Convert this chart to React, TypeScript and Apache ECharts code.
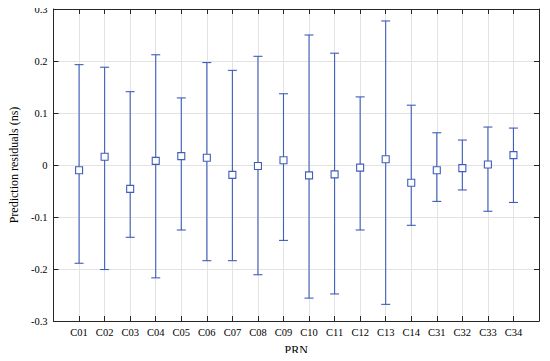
import React, { useEffect, useRef } from "react";
import * as echarts from "echarts";

const categories = ["C01","C02","C03","C04","C05","C06","C07","C08","C09","C10","C11","C12","C13","C14","C31","C32","C33","C34"];
const meanValues = [-0.010, 0.016, -0.046, 0.008, 0.017, 0.014, -0.019, -0.002, 0.009, -0.020, -0.018, -0.005, 0.011, -0.034, -0.010, -0.006, 0.001, 0.019];
const upperValues = [0.193, 0.188, 0.141, 0.212, 0.129, 0.197, 0.182, 0.209, 0.137, 0.250, 0.215, 0.131, 0.277, 0.115, 0.062, 0.048, 0.073, 0.071];
const lowerValues = [-0.189, -0.201, -0.139, -0.217, -0.125, -0.184, -0.184, -0.211, -0.145, -0.256, -0.248, -0.125, -0.268, -0.116, -0.070, -0.048, -0.089, -0.072];
const yTicks = [-0.3, -0.2, -0.1, 0, 0.1, 0.2, 0.3];

const BLUE = "#3f5dba";
const AXIS = "#262626";
const FONT = "'Liberation Serif', 'Times New Roman', serif";

export default function App() {
  const ref = useRef<HTMLDivElement>(null);
  useEffect(() => {
    if (!ref.current) return;
    const chart = echarts.init(ref.current, undefined, { renderer: "svg" });
    const errData = categories.map((_, i) => [i + 1, lowerValues[i], upperValues[i]]);
    const meanData = categories.map((_, i) => [i + 1, meanValues[i]]);
    const xLabel = (v: number) => (v >= 1 && v <= categories.length ? categories[v - 1] : "");
    const yLabel = (v: number) => (Math.abs(v) < 1e-9 ? "0" : v.toFixed(1));
    const baseX = {
      type: "value",
      min: 0,
      max: categories.length + 1,
      interval: 1,
      axisLine: { show: true, onZero: false, lineStyle: { color: AXIS, width: 1 } },
      axisTick: { show: true, inside: true, length: 5, lineStyle: { color: AXIS } },
    };
    const baseY = {
      type: "value",
      min: yTicks[0],
      max: yTicks[yTicks.length - 1],
      interval: 0.1,
      axisLine: { show: true, onZero: false, lineStyle: { color: AXIS, width: 1 } },
      axisTick: { show: true, inside: true, length: 5, lineStyle: { color: AXIS } },
    };
    chart.setOption({
      animation: false,
      backgroundColor: "#ffffff",
      grid: { left: 41, right: 11, top: 9, bottom: 37, containLabel: false },
      xAxis: [
        {
          ...baseX,
          position: "bottom",
          name: "PRN",
          nameLocation: "middle",
          nameGap: 23,
          nameTextStyle: { fontFamily: FONT, fontSize: 12, color: "#000" },
          axisLabel: { formatter: xLabel, fontFamily: FONT, fontSize: 10.5, color: "#000", margin: 6 },
          splitLine: { show: true, lineStyle: { color: "#e3e3e3", width: 1 } },
        },
        {
          ...baseX,
          position: "top",
          axisLabel: { show: false },
          splitLine: { show: false },
        },
      ],
      yAxis: [
        {
          ...baseY,
          position: "left",
          name: "Prediction residuals (ns)",
          nameLocation: "middle",
          nameGap: 23,
          nameTextStyle: { fontFamily: FONT, fontSize: 12, color: "#000" },
          axisLabel: { formatter: yLabel, fontFamily: FONT, fontSize: 10.5, color: "#000", margin: 6 },
          splitLine: { show: true, lineStyle: { color: "#e3e3e3", width: 1 } },
        },
        {
          ...baseY,
          position: "right",
          axisLabel: { show: false },
          splitLine: { show: false },
        },
      ],
      series: [
        {
          type: "custom",
          data: errData,
          xAxisIndex: 0,
          yAxisIndex: 0,
          renderItem: (params: any, api: any) => {
            const x = api.value(0);
            const lo = api.coord([x, api.value(1)]);
            const hi = api.coord([x, api.value(2)]);
            const hw = 4.5;
            const style = { stroke: BLUE, lineWidth: 1.1 };
            return {
              type: "group",
              children: [
                { type: "line", shape: { x1: lo[0], y1: lo[1], x2: hi[0], y2: hi[1] }, style },
                { type: "line", shape: { x1: lo[0] - hw, y1: lo[1], x2: lo[0] + hw, y2: lo[1] }, style },
                { type: "line", shape: { x1: hi[0] - hw, y1: hi[1], x2: hi[0] + hw, y2: hi[1] }, style },
              ],
            };
          },
          z: 2,
        },
        {
          type: "scatter",
          data: meanData,
          xAxisIndex: 0,
          yAxisIndex: 0,
          symbol: "rect",
          symbolSize: 7,
          itemStyle: { color: "#ffffff", borderColor: BLUE, borderWidth: 1.1, opacity: 1 },
          z: 3,
        },
      ],
    });
    return () => chart.dispose();
  }, []);
  return <div ref={ref} style={{ width: 550, height: 361, margin: -8 }} />;
}
